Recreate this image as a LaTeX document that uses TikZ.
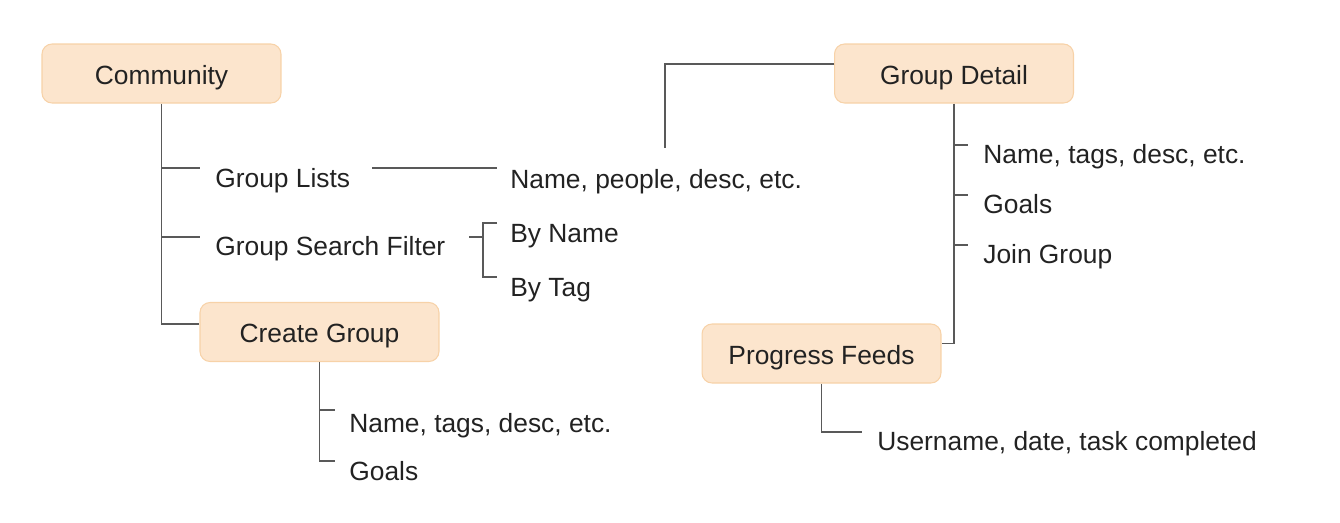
\documentclass[tikz,border=0pt]{standalone}
\usepackage{fontspec}
\setmainfont{Liberation Sans}
\definecolor{boxfill}{HTML}{FCE5CD}
\definecolor{boxline}{HTML}{F7D2A8}
\definecolor{wirecol}{HTML}{595959}
\definecolor{ink}{HTML}{222222}
\tikzset{
  topic/.style={draw=boxline, fill=boxfill, rounded corners=0.2cm, line width=0.6pt,
    minimum width=4.78cm, minimum height=1.18cm, text height=0.42cm, text depth=0cm,
    inner sep=0pt, text=ink},
  item/.style={anchor=base west, inner sep=0pt, text=ink},
  wire/.style={draw=wirecol, line width=1pt}
}
\begin{document}
\begin{tikzpicture}[x=0.02cm, y=-0.02cm, font=\fontsize{15}{18}\selectfont]
        \useasboundingbox (0,0) rectangle (1340,522);
        % boxes
        \node[topic] (comm) at (161.5,73.5) {Community};
        \node[topic] (detail) at (954,73.5) {Group Detail};
        \node[topic] (create) at (319.5,332) {Create Group};
        \node[topic] (feeds) at (821.5,353.5) {Progress Feeds};
        % texts
        \node[item] (lists) at (215,187) {Group Lists};
        \node[item] (filter) at (215,255) {Group Search Filter};
        \node[item] (people) at (510,188) {Name, people, desc, etc.};
        \node[item] (byname) at (510,242) {By Name};
        \node[item] (bytag) at (510,296) {By Tag};
        \node[item] (cname) at (349,432) {Name, tags, desc, etc.};
        \node[item] (cgoals) at (349,480) {Goals};
        \node[item] (dname) at (983,163) {Name, tags, desc, etc.};
        \node[item] (dgoals) at (983,213) {Goals};
        \node[item] (djoin) at (983,263) {Join Group};
        \node[item] (user) at (877,450) {Username, date, task completed};
        % free ends
        \coordinate (t1) at (200,168);
        \coordinate (t2) at (200,237);
        \coordinate (l1) at (372,168);
        \coordinate (l2) at (497,168);
        \coordinate (d1) at (665,148);
        \coordinate (f0) at (469,237);
        \coordinate (f1) at (497,223);
        \coordinate (f2) at (497,277);
        \coordinate (c1) at (335,410);
        \coordinate (c2) at (335,461);
        \coordinate (u1) at (862,432);
        % community
        \draw[wire] (comm.south) |- ([yshift=0.16cm]create.west);
        \draw[wire] (comm.south |- t1) -- (t1);
        \draw[wire] (comm.south |- t2) -- (t2);
        \draw[wire] (l1) -- (l2);
        \draw[wire] ([yshift=0.19cm]detail.west) -| (d1);
        \draw[wire] (f0) -- ++(14,0);
        \draw[wire] (f1) -- ++(-14,0) |- (f2);
        % create group
        \draw[wire] (create.south) |- (c2);
        \draw[wire] (create.south |- c1) -- (c1);
        % group detail
        \draw[wire] (detail.south) |- ([yshift=0.2cm]feeds.east);
        \foreach \y in {145,195,245} {
            \coordinate (g\y) at (968,\y);
            \draw[wire] (detail.south |- g\y) -- (g\y);
        }
        % progress feeds
        \draw[wire] (feeds.south) |- (u1);
\end{tikzpicture}
\end{document}
